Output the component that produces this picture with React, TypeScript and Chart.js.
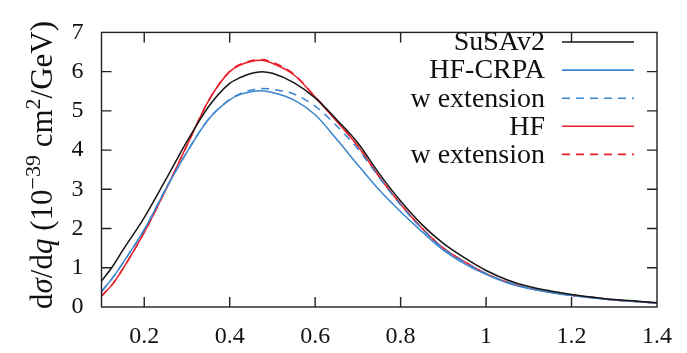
import React, { useEffect, useRef } from "react";
import { Chart, registerables } from "chart.js";

Chart.register(...registerables);

const qValues = [0.10, 0.125, 0.15, 0.20, 0.25, 0.30, 0.35, 0.40, 0.425, 0.45, 0.475, 0.50, 0.55, 0.60, 0.65, 0.70, 0.75, 0.80, 0.85, 0.90, 0.95, 1.00, 1.05, 1.10, 1.15, 1.20, 1.25, 1.30, 1.35, 1.40];

const susav2 = [0.66, 1.02, 1.45, 2.28, 3.24, 4.22, 5.10, 5.70, 5.85, 5.95, 6.00, 5.96, 5.72, 5.33, 4.78, 4.18, 3.40, 2.70, 2.10, 1.62, 1.25, 0.93, 0.69, 0.52, 0.41, 0.32, 0.25, 0.19, 0.15, 0.11];
const hfCrpa = [0.39, 0.73, 1.12, 1.97, 3.00, 3.95, 4.78, 5.28, 5.42, 5.49, 5.51, 5.47, 5.28, 4.90, 4.28, 3.62, 2.98, 2.43, 1.92, 1.45, 1.10, 0.83, 0.61, 0.47, 0.37, 0.29, 0.23, 0.18, 0.14, 0.10];
const hfCrpaExt = [0.39, 0.73, 1.12, 1.97, 3.00, 3.95, 4.78, 5.29, 5.44, 5.53, 5.57, 5.55, 5.43, 5.12, 4.62, 4.03, 3.30, 2.60, 1.99, 1.49, 1.14, 0.85, 0.63, 0.48, 0.38, 0.30, 0.24, 0.18, 0.14, 0.10];
const hf = [0.28, 0.57, 0.97, 1.90, 2.98, 4.12, 5.25, 6.00, 6.17, 6.26, 6.29, 6.21, 5.92, 5.35, 4.74, 4.10, 3.32, 2.62, 2.01, 1.50, 1.15, 0.85, 0.63, 0.48, 0.38, 0.30, 0.24, 0.18, 0.14, 0.10];
const hfExt = [0.28, 0.57, 0.97, 1.90, 2.98, 4.12, 5.25, 6.01, 6.19, 6.28, 6.31, 6.24, 5.94, 5.36, 4.75, 4.10, 3.32, 2.62, 2.01, 1.50, 1.15, 0.85, 0.63, 0.48, 0.38, 0.30, 0.24, 0.18, 0.14, 0.10];

const seriesLabels = ["SuSAv2", "HF-CRPA", "w extension", "HF", "w extension"];
const xTickValues = [0.2, 0.4, 0.6, 0.8, 1.0, 1.2, 1.4];
const xTickLabels = ["0.2", "0.4", "0.6", "0.8", "1", "1.2", "1.4"];
const yTickValues = [0, 1, 2, 3, 4, 5, 6, 7];
const yTickLabels = ["0", "1", "2", "3", "4", "5", "6", "7"];

const BLACK = "#151515";
const BLUE = "#3b86cf";
const RED = "#e8202a";

const candidates = ["Liberation Serif", "DejaVu Serif", "Tinos", "Times New Roman", "Noto Serif", "FreeSerif", "Times"];

let SERIF = '"Liberation Serif", serif';

function detectSerif() {
  const c = document.createElement("canvas").getContext("2d")!;
  const sample = "mmmwwwiiilllQQ0123";
  const w = (f: string) => {
    c.font = `40px ${f}`;
    return c.measureText(sample).width;
  };
  const mono = w("monospace");
  const sans = w("sans-serif");
  const found: string[] = [];
  candidates.forEach((name) => {
    const a = w(`"${name}", monospace`);
    const b = w(`"${name}", sans-serif`);
    if (a !== mono || b !== sans) found.push(name);
  });
  w("serif");
  if (found.length) SERIF = `"${found[0]}", serif`;
}

const toPoints = (ys: number[]) => ys.map((y, i) => ({ x: qValues[i], y }));

const framePlugin = {
  id: "framePlugin",
  afterDraw(chart: any) {
    const { ctx, chartArea, scales } = chart;
    const { left, right, top, bottom } = chartArea;
    const xs = scales.x;
    const ys = scales.y;
    ctx.save();
    ctx.strokeStyle = "#222";
    ctx.lineWidth = 1.4;
    ctx.strokeRect(left, top, right - left, bottom - top);
    const tl = 10;
    ctx.beginPath();
    xTickValues.forEach((v) => {
      const px = xs.getPixelForValue(v);
      if (px <= left + 1 || px >= right - 1) return;
      ctx.moveTo(px, bottom);
      ctx.lineTo(px, bottom - tl);
      ctx.moveTo(px, top);
      ctx.lineTo(px, top + tl);
    });
    yTickValues.forEach((v) => {
      const py = ys.getPixelForValue(v);
      if (py <= top + 1 || py >= bottom - 1) return;
      ctx.moveTo(left, py);
      ctx.lineTo(left + tl, py);
      ctx.moveTo(right, py);
      ctx.lineTo(right - tl, py);
    });
    ctx.stroke();

    // legend
    const ds = chart.data.datasets;
    const textRight = 545;
    const lineStart = 562;
    const lineEnd = 634;
    const rowTop = 42;
    const rowGap = 28.1;
    ctx.font = `28px ${SERIF}`;
    ctx.textAlign = "right";
    ctx.textBaseline = "middle";
    ds.forEach((d: any, i: number) => {
      const y = rowTop + i * rowGap;
      ctx.fillStyle = "#111";
      ctx.fillText(seriesLabels[i], textRight, y + 1);
      ctx.beginPath();
      ctx.strokeStyle = d.borderColor;
      ctx.lineWidth = 1.6;
      ctx.setLineDash(d.borderDash || []);
      ctx.moveTo(lineStart, y);
      ctx.lineTo(lineEnd, y);
      ctx.stroke();
    });
    ctx.setLineDash([]);

    // y axis title with mixed styles
    const segs: [string, boolean, boolean][] = [
      ["d", false, false],
      ["σ", true, false],
      ["/d", false, false],
      ["q", true, false],
      [" (10", false, false],
      ["−39", false, true],
      [" cm", false, false],
      ["2", false, true],
      ["/GeV)", false, false],
    ];
    const base = 31;
    const fontFor = (it: boolean, sup: boolean) =>
      `${it ? "italic " : ""}${sup ? Math.round(base * 0.7) : base}px ${SERIF}`;
    let total = 0;
    segs.forEach(([t, it, sup]) => {
      ctx.font = fontFor(it, sup);
      total += ctx.measureText(t).width;
    });
    ctx.translate(43, 165);
    ctx.rotate(-Math.PI / 2);
    ctx.textAlign = "left";
    ctx.textBaseline = "alphabetic";
    ctx.fillStyle = "#111";
    let cx = -total / 2;
    segs.forEach(([t, it, sup]) => {
      ctx.font = fontFor(it, sup);
      ctx.fillText(t, cx, sup ? -3 : 9);
      cx += ctx.measureText(t).width;
    });
    ctx.restore();
  },
};

export default function App() {
  const ref = useRef<HTMLCanvasElement | null>(null);
  useEffect(() => {
    document.body.style.margin = "0";
    detectSerif();
    const canvas = ref.current;
    if (!canvas) return;
    const chart = new Chart(canvas, {
      type: "line",
      data: {
        datasets: [
          { label: seriesLabels[0], data: toPoints(susav2), borderColor: BLACK, borderWidth: 1.5 },
          { label: seriesLabels[1], data: toPoints(hfCrpa), borderColor: BLUE, borderWidth: 1.5 },
          { label: seriesLabels[2], data: toPoints(hfCrpaExt), borderColor: BLUE, borderWidth: 1.5, borderDash: [8, 6] },
          { label: seriesLabels[3], data: toPoints(hf), borderColor: RED, borderWidth: 1.5 },
          { label: seriesLabels[4], data: toPoints(hfExt), borderColor: RED, borderWidth: 1.5, borderDash: [8, 6] },
        ].map((d) => ({ ...d, pointRadius: 0, fill: false, cubicInterpolationMode: "monotone" as const })),
      },
      options: {
        animation: false,
        responsive: false,
        maintainAspectRatio: false,
        layout: { padding: { left: 0, right: 20, top: 17, bottom: 0 } },
        plugins: { legend: { display: false }, tooltip: { enabled: false } },
        scales: {
          x: {
            type: "linear",
            min: 0.1,
            max: 1.4,
            grid: { display: false, drawTicks: false },
            border: { display: false },
            afterBuildTicks: (s: any) => {
              s.ticks = xTickValues.map((v) => ({ value: v }));
            },
            afterFit: (s: any) => {
              s.height = 46;
            },
            ticks: {
              padding: 15,
              color: "#111",
              font: { family: SERIF, size: 24 },
              maxRotation: 0,
              autoSkip: false,
              callback: (v: any) => {
                const i = xTickValues.findIndex((t) => Math.abs(t - Number(v)) < 1e-6);
                return i >= 0 ? xTickLabels[i] : "";
              },
            },
          },
          y: {
            type: "linear",
            min: 0,
            max: 7,
            grid: { display: false, drawTicks: false },
            border: { display: false },
            afterBuildTicks: (s: any) => {
              s.ticks = yTickValues.map((v) => ({ value: v }));
            },
            afterFit: (s: any) => {
              s.width = 101.5;
            },
            ticks: {
              padding: 18,
              color: "#111",
              font: { family: SERIF, size: 24 },
              autoSkip: false,
              callback: (v: any) => {
                const i = yTickValues.indexOf(Number(v));
                return i >= 0 ? yTickLabels[i] : "";
              },
            },
          },
        },
      },
      plugins: [framePlugin],
    });
    return () => chart.destroy();
  }, []);
  return (
    <div style={{ position: "fixed", left: 0, top: 0, width: 687, height: 353, background: "#fff" }}>
      <canvas ref={ref} width={687} height={353} style={{ width: 687, height: 353 }} />
    </div>
  );
}
